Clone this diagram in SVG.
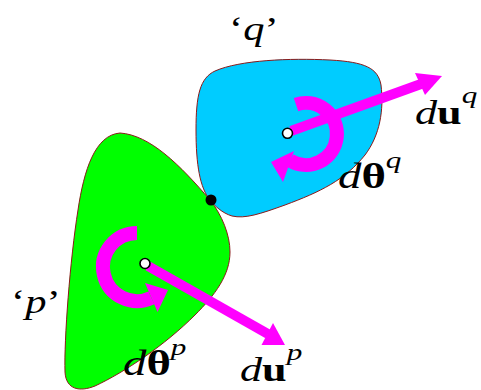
<svg xmlns="http://www.w3.org/2000/svg" width="481" height="390" viewBox="0 0 481 390">
<style>
.body{stroke:#8b1a1a;stroke-width:1}
.shaft{stroke:#ff00ff;stroke-width:10;fill:none}
.rot{stroke:#ff00ff;stroke-width:14;fill:none}
.head{fill:#ff00ff}
.ctr{fill:#fff;stroke:#000;stroke-width:1.6}
text{font-family:"Liberation Serif","Times New Roman",serif;fill:#000}
.it{font-style:italic}
.bf{font-weight:bold}
</style>
<rect width="481" height="390" fill="#fff"/>
<g id="body-p">
<path class="body" fill="#00ff00" d="M120 133C150 135 180 165 210 200C222 215 230 235 230 252C230 275 215 295 195 315C165 345 125 372 95 386C80 392 66 390 65 372C64 340 70 260 78 210C84 170 95 135 120 133Z"/>
</g>
<g id="body-q">
<path class="body" fill="#00ccff" d="M210 200C200 188 196 165 196 130C196 95 200 78 215 71C240 60 290 58 330 60C365 62 378 68 381 85C384 110 380 135 365 155C345 180 320 192 285 205C260 214 245 219 232 216C222 213 215 206 210 200Z"/>
</g>
<g id="contact">
<circle cx="211" cy="200" r="5.5" fill="#000"/>
</g>
<g id="connectors">
<path class="rot" d="M296 104.6A31 31 0 1 1 289.9 160.5"/>
<polygon class="head" points="294,151 283,182 271,162"/>
<line class="shaft" x1="291" y1="131" x2="421" y2="84"/>
<polygon class="head" points="415,73 442,76 425,95"/>
<path class="rot" d="M137 233A34 34 0 1 0 151.4 297.8"/>
<polygon class="head" points="145,283 168,290 157.5,312"/>
<line class="shaft" x1="148" y1="266" x2="268" y2="334"/>
<polygon class="head" points="273,323 285,345 261.5,345"/>
</g>
<g id="centers">
<circle class="ctr" cx="287.5" cy="133.3" r="5"/>
<circle class="ctr" cx="145" cy="263.5" r="5"/>
</g>
<g id="labels">
<text transform="translate(229,40) scale(1.25,1)" font-size="34">‘<tspan class="it">q</tspan>’</text>
<text transform="translate(11,313) scale(1.25,1)" font-size="34">‘<tspan class="it">p</tspan>’</text>
<text transform="translate(415,124) scale(1.3,1)" font-size="34"><tspan class="it">d</tspan><tspan class="bf">u</tspan><tspan class="it" font-size="24" dy="-21">q</tspan></text>
<text transform="translate(338,188) scale(1.3,1)" font-size="36"><tspan class="it">d</tspan><tspan class="bf">θ</tspan><tspan class="it" font-size="24" dy="-20">q</tspan></text>
<text transform="translate(123,375) scale(1.3,1)" font-size="36"><tspan class="it">d</tspan><tspan class="bf">θ</tspan><tspan class="it" font-size="24" dy="-20">p</tspan></text>
<text transform="translate(240,381) scale(1.3,1)" font-size="34"><tspan class="it">d</tspan><tspan class="bf">u</tspan><tspan class="it" font-size="24" dy="-21">p</tspan></text>
</g>
</svg>
